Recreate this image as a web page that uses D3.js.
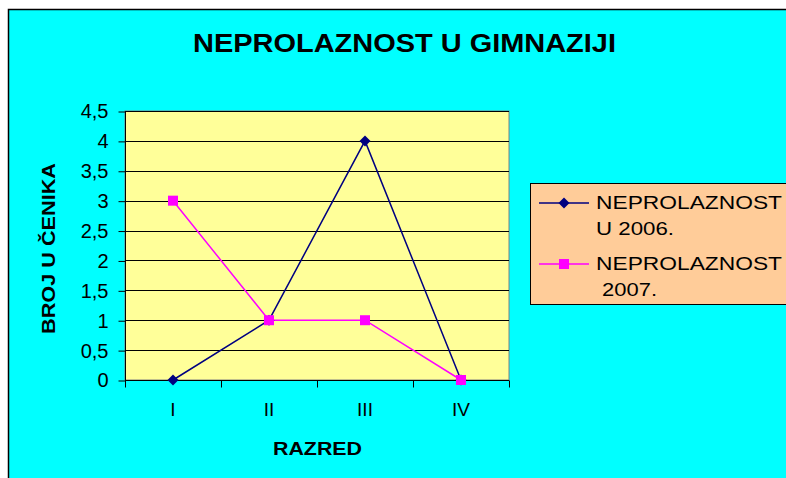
<!DOCTYPE html>
<html><head><meta charset="utf-8">
<script src="https://cdn.jsdelivr.net/npm/d3@7"></script>
<style>html,body{margin:0;padding:0;background:#fff;}svg{display:block;}</style>
</head><body>
<script>
const categories = ["I", "II", "III", "IV"];
const series2006 = [0, 1, 4, 0];
const series2007 = [3, 1, 1, 0];
const yTicks = [0, 0.5, 1, 1.5, 2, 2.5, 3, 3.5, 4, 4.5];
const yTickLabels = ["0", "0,5", "1", "1,5", "2", "2,5", "3", "3,5", "4", "4,5"];
const seriesNames = [["NEPROLAZNOST", "U 2006."], ["NEPROLAZNOST", " 2007."]];
const title = "NEPROLAZNOST U GIMNAZIJI";
const xTitle = "RAZRED";
const yTitle = "BROJ U ČENIKA";

const W = 786, H = 478;
const font = "Arial, 'Liberation Sans', sans-serif";
const svg = d3.select("body").append("svg").attr("width", W).attr("height", H);

// chart area background with border
svg.append("rect").attr("x", 8.5).attr("y", 9.5).attr("width", W).attr("height", H)
  .attr("fill", "#00FFFF").attr("stroke", "#000").attr("stroke-width", 1.5);

const plot = {left: 125, right: 509, top: 111, bottom: 380};
const x = d3.scaleBand().domain(categories).range([plot.left, plot.right]);
const y = d3.scaleLinear().domain([0, 4.5]).range([plot.bottom, plot.top]);

svg.append("rect").attr("x", plot.left).attr("y", plot.top)
  .attr("width", plot.right - plot.left).attr("height", plot.bottom - plot.top)
  .attr("fill", "#FFFF99").attr("stroke", "#808080").attr("stroke-width", 1);

// gridlines
svg.append("g").selectAll("line").data(yTicks.slice(1)).join("line")
  .attr("x1", plot.left).attr("x2", plot.right)
  .attr("y1", d => Math.round(y(d)) + 0.5).attr("y2", d => Math.round(y(d)) + 0.5)
  .attr("stroke", "#000").attr("stroke-width", 1);

// y axis
const yAxis = d3.axisLeft(y).tickValues(yTicks).tickSize(7).tickPadding(10)
  .tickFormat((d, i) => yTickLabels[i]);
const gy = svg.append("g").attr("transform", `translate(${plot.left + 0.5},0.5)`).call(yAxis);
gy.select(".domain").attr("stroke", "#000").attr("d", `M0,${plot.top}V${plot.bottom}`);
gy.selectAll(".tick line").attr("stroke", "#000");
gy.selectAll("text").attr("font-family", font).attr("font-size", 20).attr("fill", "#000");

// x axis
const xAxis = d3.axisBottom(x).tickSize(0).tickPadding(22);
const gx = svg.append("g").attr("transform", `translate(0,${plot.bottom + 0.5})`).call(xAxis);
gx.select(".domain").attr("stroke", "#000").attr("d", `M${plot.left},0H${plot.right}`);
gx.selectAll("text").attr("font-family", font).attr("font-size", 19).attr("fill", "#000");
const bounds = categories.map(c => x(c)).concat([plot.right]);
gx.selectAll(".bt").data(bounds).join("line").attr("class", "bt")
  .attr("x1", d => Math.round(d) + 0.5).attr("x2", d => Math.round(d) + 0.5)
  .attr("y1", 0).attr("y2", 7).attr("stroke", "#000");

// lines
const cx = c => x(c) + x.bandwidth() / 2;
const line = d3.line().x((d, i) => cx(categories[i])).y(d => y(d));
svg.append("path").attr("d", line(series2007)).attr("fill", "none")
  .attr("stroke", "#FF00FF").attr("stroke-width", 1.5);
svg.append("path").attr("d", line(series2006)).attr("fill", "none")
  .attr("stroke", "#000080").attr("stroke-width", 1.5);

// markers
svg.append("g").selectAll("path").data(series2006).join("path")
  .attr("transform", (d, i) => `translate(${cx(categories[i])},${y(d)})`)
  .attr("d", "M0,-5.5L5.5,0L0,5.5L-5.5,0Z").attr("fill", "#000080");
svg.append("g").selectAll("rect").data(series2007).join("rect")
  .attr("x", (d, i) => cx(categories[i]) - 5).attr("y", d => y(d) - 5)
  .attr("width", 10).attr("height", 10).attr("fill", "#FF00FF");

// title
svg.append("text").attr("x", 404.5).attr("y", 52).attr("text-anchor", "middle")
  .attr("font-family", font).attr("font-weight", "bold").attr("font-size", 25)
  .attr("textLength", 423).attr("lengthAdjust", "spacingAndGlyphs")
  .text(title);

// axis titles
svg.append("text").attr("x", 317.5).attr("y", 455).attr("text-anchor", "middle")
  .attr("font-family", font).attr("font-weight", "bold").attr("font-size", 18)
  .attr("textLength", 89).attr("lengthAdjust", "spacingAndGlyphs")
  .text(xTitle);
svg.append("text").attr("transform", "translate(55,248.5) rotate(-90)")
  .attr("text-anchor", "middle")
  .attr("font-family", font).attr("font-weight", "bold").attr("font-size", 18)
  .attr("textLength", 171).attr("lengthAdjust", "spacingAndGlyphs")
  .text(yTitle);

// legend
const lg = svg.append("g");
lg.append("rect").attr("x", 530.5).attr("y", 183.5).attr("width", 300).attr("height", 121)
  .attr("fill", "#FFCC99").attr("stroke", "#000").attr("stroke-width", 1);
const legendY = [203, 264];
const colors = ["#000080", "#FF00FF"];
const lens = [[186, 78], [186, 61]];
legendY.forEach((ly, i) => {
  lg.append("line").attr("x1", 539).attr("x2", 589).attr("y1", ly).attr("y2", ly)
    .attr("stroke", colors[i]).attr("stroke-width", 1.5);
  if (i === 0) {
    lg.append("path").attr("transform", `translate(564,${ly})`)
      .attr("d", "M0,-5.5L5.5,0L0,5.5L-5.5,0Z").attr("fill", colors[i]);
  } else {
    lg.append("rect").attr("x", 559).attr("y", ly - 5).attr("width", 10).attr("height", 10)
      .attr("fill", colors[i]);
  }
  [0, 1].forEach(j => {
    lg.append("text").attr("font-family", font).attr("font-size", 18)
      .attr("xml:space", "preserve").style("white-space", "pre")
      .attr("x", 596).attr("y", ly + 6 + j * 26)
      .attr("textLength", lens[i][j]).attr("lengthAdjust", "spacingAndGlyphs")
      .text(seriesNames[i][j]);
  });
});
</script>
</body></html>
